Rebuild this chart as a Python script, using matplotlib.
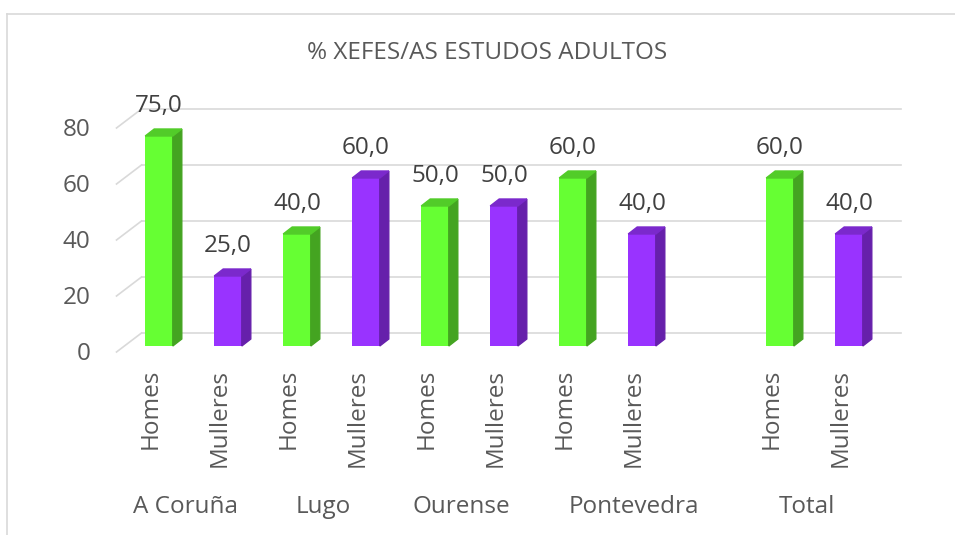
import matplotlib.pyplot as plt
import numpy as np
from matplotlib.patches import Polygon
from matplotlib.lines import Line2D

plt.rcParams['font.family'] = ['Open Sans', 'DejaVu Sans']

title = "% XEFES/AS ESTUDOS ADULTOS"
groups = ["A Coruña", "Lugo", "Ourense", "Pontevedra", "Total"]
series = ["Homes", "Mulleres"]
homes = [75.0, 40.0, 50.0, 60.0, 60.0]
mulleres = [25.0, 60.0, 50.0, 40.0, 40.0]
yticks = [0, 20, 40, 60, 80]

# Pontevedra has an empty third row in the sheet
group_slots = [2, 2, 2, 3, 2]

front = {"Homes": "#66ff33", "Mulleres": "#9933ff"}
side = {"Homes": "#44a421", "Mulleres": "#6620ab"}
top = {"Homes": "#52cc29", "Mulleres": "#7b29cc"}
grid_c = "#d9d9d9"
txt = "#595959"
fs = 17.5

W, H = 955, 535
fig = plt.figure(figsize=(W / 100, H / 100), dpi=100)
# axes = bar front plane
ax = fig.add_axes([124.5 / W, (H - 346) / H, 759 / W, 224 / H])
nslots = sum(group_slots)
ax.set_xlim(-0.5, nslots - 0.5)
ax.set_ylim(0, 80)
ax.axis("off")

# pixel -> data helpers
px_x = ax.bbox.width / nslots
px_y = ax.bbox.height / 80.0

def off(dx, dy):
    return dx / px_x, dy / px_y

back_dx, back_dy = off(17, 13)
front_dx, front_dy = off(-8, -6)
bar_dx, bar_dy = off(9, 7)

# back wall gridlines and floor diagonals
x0, x1 = -0.5, nslots - 0.5
for t in yticks:
    ax.plot([x0 + back_dx, x1 + back_dx], [t + back_dy, t + back_dy],
            color=grid_c, lw=1.2, zorder=1, clip_on=False)
    ax.plot([x0 + front_dx, x0 + back_dx], [t + front_dy, t + back_dy],
            color=grid_c, lw=1.2, zorder=1, clip_on=False)
    ax.annotate(str(t), (x0, t), xytext=(-34, -8), textcoords="offset pixels",
                ha="right", va="center", fontsize=fs, color=txt)

# bars
width = 0.4
pos = []
start = 0
for g, n in enumerate(group_slots):
    pos.append((start, start + 1))
    start += n

for g in range(len(groups)):
    for k, (name, vals) in enumerate([("Homes", homes), ("Mulleres", mulleres)]):
        x = pos[g][k]
        v = vals[g]
        l, r = x - width / 2, x + width / 2
        ax.bar(x, v, width=width, color=front[name], zorder=3)
        ax.add_patch(Polygon([(r, 0), (r, v), (r + bar_dx, v + bar_dy), (r + bar_dx, bar_dy)],
                             closed=True, color=side[name], zorder=3, clip_on=False))
        ax.add_patch(Polygon([(l, v), (r, v), (r + bar_dx, v + bar_dy), (l + bar_dx, v + bar_dy)],
                             closed=True, color=top[name], zorder=3, clip_on=False))
        ax.annotate(f"{v:.1f}".replace(".", ","), (x, v), xytext=(0, 18),
                    textcoords="offset pixels", ha="center", va="bottom",
                    fontsize=fs, color="#404040")
        ax.annotate(name, (x, 0), xytext=(-8, -23), textcoords="offset pixels",
                    ha="center", va="top", rotation=90, fontsize=fs, color=txt)

# group labels
start = 0
for g, n in enumerate(group_slots):
    xc = start + (n - 1) / 2
    ax.annotate(groups[g], (xc, 0), xytext=(-8, -161), textcoords="offset pixels",
                ha="center", va="center", fontsize=fs, color=txt)
    start += n

fig.text(487 / W, 1 - 53 / H, title, ha="center", va="center", fontsize=fs, color=txt)

# chart area border
fig.add_artist(Line2D([7 / W, 7 / W], [0, 1 - 14 / H], transform=fig.transFigure,
                      color=grid_c, lw=1.2))
fig.add_artist(Line2D([7 / W, 1], [1 - 14 / H, 1 - 14 / H], transform=fig.transFigure,
                      color=grid_c, lw=1.2))

fig.savefig("out.png", dpi=100, facecolor="white")
